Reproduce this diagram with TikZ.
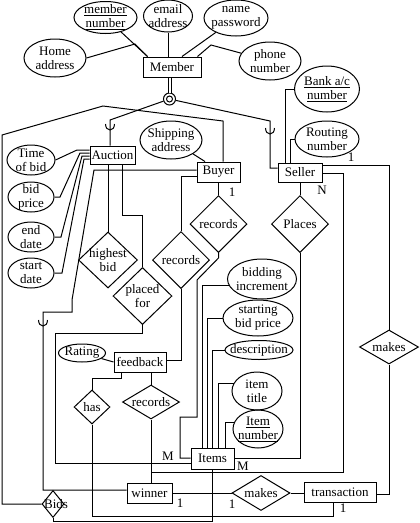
\documentclass[tikz,border=0pt]{standalone}
\usepackage{fontspec}
\setmainfont{Liberation Serif}
\usetikzlibrary{shapes.geometric}
\begin{document}
\begin{tikzpicture}[x=1pt,y=-1pt,
  every node/.style={font=\fontsize{13}{14}\selectfont},
  line width=1pt,
  ent/.style={draw, rectangle, inner sep=0pt},
  attr/.style={draw, ellipse, inner sep=0pt},
  rel/.style={draw, diamond, inner sep=0pt},
  txt/.style={align=center, inner sep=0pt},
  card/.style={inner sep=0pt}
]
\useasboundingbox (0,0) rectangle (420,523);
% entities
\node[ent, minimum width=58, minimum height=20] (member) at (172,67) {Member};
\node[ent, minimum width=45, minimum height=18] (auction) at (112.5,155) {Auction};
\node[ent, minimum width=43, minimum height=20] (buyer) at (218.5,172) {Buyer};
\node[ent, minimum width=44, minimum height=19] (seller) at (300,172.5) {Seller};
\node[ent, minimum width=52, minimum height=20] (feedback) at (140,362) {feedback};
\node[ent, minimum width=43, minimum height=21] (items) at (212.5,458.5) {Items};
\node[ent, minimum width=45, minimum height=20] (winner) at (149.5,493) {winner};
\node[ent, minimum width=72, minimum height=20] (trans) at (340,492) {transaction};
% attributes
\node[attr, minimum width=63, minimum height=32, label={[txt]center:\underline{member}\\\underline{number}}] (mnum) at (105.5,17.5) {};
\node[attr, minimum width=49, minimum height=32, label={[txt]center:email\\address}] (email) at (168,16) {};
\node[attr, minimum width=64, minimum height=36, label={[txt]center:name\\password}] (namepw) at (236,18) {};
\node[attr, minimum width=62, minimum height=38, label={[txt]center:Home\\address}] (home) at (55,58) {};
\node[attr, minimum width=62, minimum height=38, label={[txt]center:phone\\number}] (phone) at (270,61) {};
\node[attr, minimum width=62, minimum height=38, label={[txt]center:Shipping\\address}] (ship) at (171,140) {};
\node[attr, minimum width=65, minimum height=46, label={[txt]center:\underline{Bank a/c}\\\underline{number}}] (bank) at (327,89) {};
\node[attr, minimum width=64, minimum height=36, label={[txt]center:Routing\\number}] (routing) at (327,139) {};
\node[attr, minimum width=48, minimum height=30, label={[txt]center:Time\\of bid}] (timebid) at (31,160) {};
\node[attr, minimum width=46, minimum height=30, label={[txt]center:bid\\price}] (bidprice) at (31,197) {};
\node[attr, minimum width=46, minimum height=30, label={[txt]center:end\\date}] (enddate) at (31,237) {};
\node[attr, minimum width=46, minimum height=30, label={[txt]center:start\\date}] (startdate) at (31,273) {};
\node[attr, minimum width=47, minimum height=18, label={[txt]center:Rating}] (rating) at (82,353) {};
\node[attr, minimum width=69, minimum height=40, label={[txt]center:bidding\\increment}] (bidinc) at (262,279) {};
\node[attr, minimum width=70, minimum height=36, label={[txt]center:starting\\bid price}] (startbid) at (258,318) {};
\node[attr, minimum width=68, minimum height=19, label={[txt]center:description}] (desc) at (259,350) {};
\node[attr, minimum width=50, minimum height=38, label={[txt]center:item\\title}] (itemtitle) at (257,391) {};
\node[attr, minimum width=50, minimum height=38, label={[txt]center:\underline{Item}\\\underline{number}}] (itemnum) at (258,429) {};
% relationships
\node[rel, minimum width=59, minimum height=56, label={[txt]center:highest\\bid}] (highest) at (108,260) {};
\node[rel, minimum width=59, minimum height=57, label={[txt]center:placed\\for}] (placed) at (142.5,296) {};
\node[rel, minimum width=57, minimum height=57, label={[txt]center:records}] (recL) at (181,260) {};
\node[rel, minimum width=57, minimum height=57, label={[txt]center:records}] (recB) at (218.5,224) {};
\node[rel, minimum width=57, minimum height=57, label={[txt]center:Places}] (places) at (300,224) {};
\node[rel, minimum width=59, minimum height=34, label={[txt]center:makes}] (makesR) at (389,347) {};
\node[rel, minimum width=36, minimum height=34, label={[txt]center:has}] (has) at (92,407) {};
\node[rel, minimum width=57, minimum height=34, label={[txt]center:records}] (recBot) at (151,402) {};
\node[rel, minimum width=58, minimum height=35, label={[txt]center:makes}] (makesB) at (261,493) {};
\node[rel, minimum width=22, minimum height=27, label={[txt,xshift=3pt]center:Bids}] (bids) at (53,504) {};
% disjoint circle
\node[draw, circle, minimum size=12, inner sep=0pt] (circ) at (169.5,99) {};
\node[draw, circle, minimum size=6, inner sep=0pt] (circin) at (circ) {};
\coordinate (j1) at (151,472);
% member attributes
\draw (mnum) -- ([xshift=5]member.north west);
\draw (home.east) -- (135,44) -- ([xshift=5]member.north west);
\draw (email) -- (email.south |- member.north);
\draw ([xshift=10]member.north) -- (namepw);
\draw ([xshift=-4]member.north east) -- (211,45) -- (phone);
\draw[double, double distance=2pt] (circ.north |- member.south) -- (circ.north);
% specialisation
\draw (circ) -- (110,120) -- ([xshift=-2.5]auction.north);
\draw (105.5,124) .. controls (105.5,132) and (114.5,132) .. (114.5,124);
\draw (circ) -- (270,121) -- (270,168) -- (seller.west |- 0,168);
\draw (265.5,128) .. controls (265.5,136) and (274.5,136) .. (274.5,128);
\draw (bids.west) -- (2,504) -- (2,135) -- (103,106) -- (223,121) -- ([xshift=4.5]buyer.north);
% auction attributes
\draw (timebid.east) -- (77,150) -- (auction.west |- 0,150);
\draw (bidprice.east) -- (60,197) -- (80,153) -- (auction.west |- 0,153);
\draw (enddate.east) -- (61,237) -- (82,156) -- (auction.west |- 0,156);
\draw (startdate.east) -- (62,273) -- (84,159) -- (auction.west |- 0,159);
\draw (highest.north |- auction.south) -- (highest.north);
\draw (auction.south -| 122,0) -- (122,215) -- (142.5,215) -- (placed.north);
% buyer
\draw (ship) -- (buyer.north -| 205,0);
\draw (buyer.west |- 0,170) -- (94,170) -- (72,300) -- (72,312) -- (43,312) -- (43,490) -- (winner.west |- 0,490);
\draw (38.5,320) .. controls (38.5,328) and (47.5,328) .. (47.5,320);
\draw (buyer.west |- 0,176) -- (181,176) -- (recL.north);
\draw (buyer.south) -- (recB.north);
\draw (recB.south) -- (218.5,258) -- (197,280) -- (197,417) -- (180,417) -- (180,458) -- (items.west |- 0,458);
\draw (recL.south) -- (181,360) -- (feedback.east |- 0,360);
% items attributes
\draw (bidinc.192) -| (items.north -| 202,0);
\draw (startbid.west) -| (items.north -| 207,0);
\draw (desc.west) -| (items.north -| 212,0);
\draw (itemtitle.161) -| (items.north -| 218,0);
\draw (itemnum.166) -| (items.north -| 225,0);
% seller
\draw (bank.west) -- (285,89) -- (seller.north -| 285,0);
\draw (routing.west) -- (290,139) -- (seller.north -| 290,0);
\draw (seller.south) -- (places.north);
\draw (places.south) -- (300,458) -- (items.east |- 0,458);
\draw (seller.east |- 0,165) -- (389,165) -- (makesR.north);
\draw (makesR.south) -- (389,494) -- (trans.east |- 0,494);
\draw (seller.east |- 0,173) -- (343,173) -- (343,472) -- (j1);
% feedback
\draw (rating) -- (feedback.west);
\draw (feedback.south -| 121,0) -- (121,378) -- (92,378) -- (has.north);
\draw (recBot.north |- feedback.south) -- (recBot.north);
\draw (recBot.south) -- (recBot.south |- winner.north);
\draw (placed.south) -- (142.5,333) -- (55,333) -- (55,463) -- (items.west |- 0,463);
\draw (has.south) -- (92,516) -- (333,516) -- (trans.south -| 333,0);
\draw (winner.east) -- (makesB.west);
\draw (makesB.east) -- (trans.west |- makesB.east);
\draw (items.south) -- (212.5,521) -- (53,521) -- (bids.south);
% cardinalities
\node[card] (c1) at (232,192) {1};
\node[card] (c2) at (322,190) {N};
\node[card] (c3) at (351,157) {1};
\node[card] (c4) at (243,466) {M};
\node[card] (c5) at (168,456) {M};
\node[card] (c6) at (180,503) {1};
\node[card] (c7) at (232,504) {1};
\node[card] (c8) at (343,508) {1};
\end{tikzpicture}
\end{document}
